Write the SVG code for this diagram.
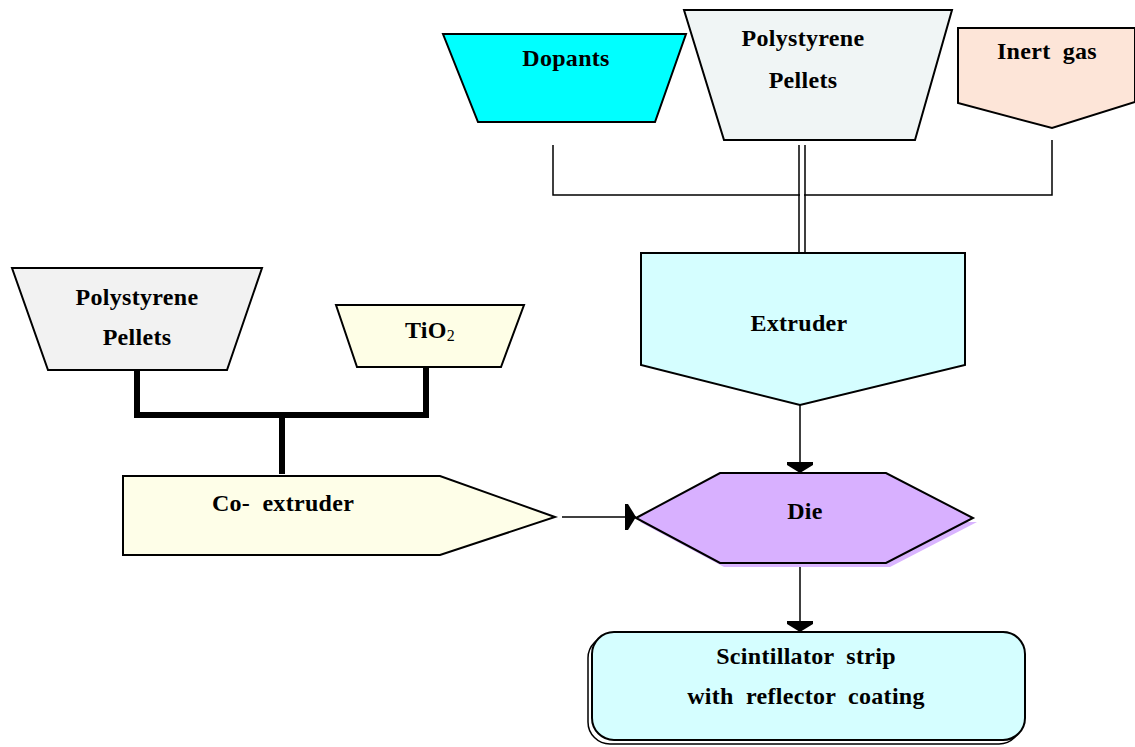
<svg xmlns="http://www.w3.org/2000/svg" width="1135" height="747" viewBox="0 0 1135 747">
<defs>
<style>
.s{stroke:#000;stroke-width:2;}
.t{font-family:"Liberation Serif",serif;font-weight:bold;font-size:24px;fill:#000;text-anchor:middle;letter-spacing:0.3px;word-spacing:6px;}
.c{fill:none;stroke:#000;stroke-width:1.5;}
.k{fill:none;stroke:#000;stroke-width:6;}
</style>
<marker id="ah" viewBox="0 0 11 26" refX="11" refY="13" markerWidth="11" markerHeight="26" markerUnits="userSpaceOnUse" orient="auto">
<path d="M0,0 L3,0 L11,13 L3,26 L0,26 Z" fill="#000"/>
</marker>
</defs>
<rect width="1135" height="747" fill="#fff"/>
<g id="connectors">
<path class="c" d="M553,145 V195 H1052 V140"/>
<path class="c" d="M799,145 V253 M805,145 V253"/>
<rect x="800" y="145" width="4" height="108" fill="#fff"/>
<path class="c" d="M800,405 V473" marker-end="url(#ah)"/>
<path class="c" d="M800,563 V632" marker-end="url(#ah)"/>
<path class="c" d="M562,517 H636" marker-end="url(#ah)"/>
<path class="k" d="M137,370 V415 H426 V367 M282,415 V474"/>
</g>
<g id="dopants">
<polygon class="s" points="443,34 686,34 655,122 478,122" fill="#00FFFF"/>
<text class="t" x="566" y="66">Dopants</text>
</g>
<g id="polystyrene-top">
<polygon class="s" points="684,10 952,10 915,140 724,140" fill="#F0F5F5"/>
<text class="t" x="803" y="46">Polystyrene</text>
<text class="t" x="803" y="88">Pellets</text>
</g>
<g id="inert-gas">
<polygon class="s" points="958,28 1135,28 1135,102 1052,128 958,103" fill="#FDE5D8"/>
<text class="t" x="1047" y="59">Inert gas</text>
</g>
<g id="extruder">
<polygon class="s" points="641,253 965,253 965,365 800,405 641,365" fill="#D5FEFF"/>
<text class="t" x="799" y="331">Extruder</text>
</g>
<g id="die">
<polygon points="640,522 724,567 890,567 977,522" fill="#D9B4FF"/>
<polygon class="s" points="636,518 720,473 886,473 973,518 886,563 720,563" fill="#D8B0FF"/>
<text class="t" x="805" y="519">Die</text>
</g>
<g id="polystyrene-left">
<polygon class="s" points="12,268 262,268 227,370 48,370" fill="#F2F2F2"/>
<text class="t" x="137" y="305">Polystyrene</text>
<text class="t" x="137" y="345">Pellets</text>
</g>
<g id="tio2">
<polygon class="s" points="336,305 524,305 501,367 357,367" fill="#FEFEE6"/>
<text class="t" x="430" y="338">TiO<tspan font-size="16" font-weight="normal" dy="3">2</tspan></text>
</g>
<g id="co-extruder">
<polygon class="s" points="123,476 440,476 555,517 440,555 123,555" fill="#FEFEE8"/>
<text class="t" x="283" y="511">Co- extruder</text>
</g>
<g id="scintillator">
<rect x="588" y="636" width="433" height="108" rx="22" fill="#fff" stroke="#000" stroke-width="1.5"/>
<rect x="592" y="632" width="433" height="108" rx="22" class="s" fill="#D5FEFF"/>
<text class="t" x="806" y="664">Scintillator strip</text>
<text class="t" x="806" y="704">with reflector coating</text>
</g>
</svg>
